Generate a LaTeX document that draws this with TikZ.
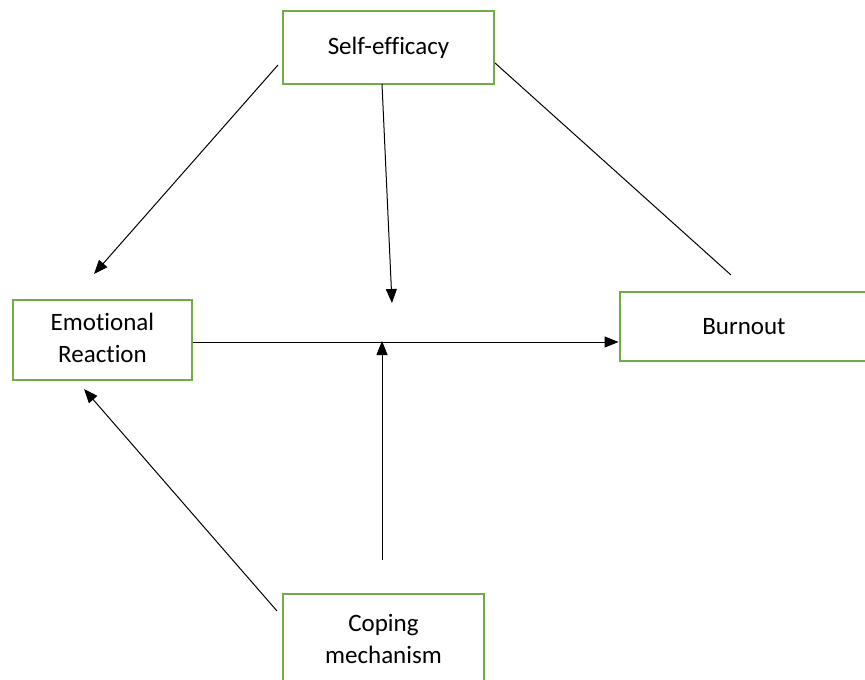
\documentclass[tikz,border=0pt]{standalone}
\usepackage{fontspec}
\setmainfont[Ligatures={NoCommon}]{Carlito}
\usetikzlibrary{arrows.meta}
\definecolor{boxgreen}{RGB}{112,173,71}
\begin{document}
\begin{tikzpicture}[x=1pt,y=-1pt,
  box/.style={draw=boxgreen,line width=2.8pt,fill=white,inner sep=0pt,align=center,font=\fontsize{25}{32}\selectfont},
  conn/.style={line width=1pt},
  arr/.style={conn,-{Triangle[length=14pt,width=11pt]}}]
\useasboundingbox (0,0) rectangle (865,680);
\node[box,minimum width=211pt,minimum height=73pt] (self) at (388.5,47.5) {Self-efficacy};
\node[box,minimum width=179pt,minimum height=80pt] (emo) at (102.5,340) {Emotional\\Reaction\vspace{5pt}};
\node[box,minimum width=248pt,minimum height=69pt] (burn) at (744,326.5) {Burnout};
\node[box,minimum width=201pt,minimum height=90pt] (cope) at (383.5,639) {Coping\\mechanism};
\coordinate (s1) at (278,65);
\coordinate (e1) at (94,274);
\coordinate (s2) at (382,84);
\coordinate (m1) at (392,303);
\coordinate (s3) at (495,63);
\coordinate (b1) at (731,275);
\coordinate (c1) at (382,560);
\coordinate (m2) at (382,341);
\coordinate (c2) at (277,611);
\coordinate (e2) at (84,389);
\draw[arr] (s1) -- (e1);
\draw[arr] (s2) -- (m1);
\draw[conn] (s3) -- (b1);
\draw[arr] (emo.east |- 0,342) -- (burn.west |- 0,342);
\draw[arr] (c1) -- (m2);
\draw[arr] (c2) -- (e2);
\end{tikzpicture}
\end{document}
